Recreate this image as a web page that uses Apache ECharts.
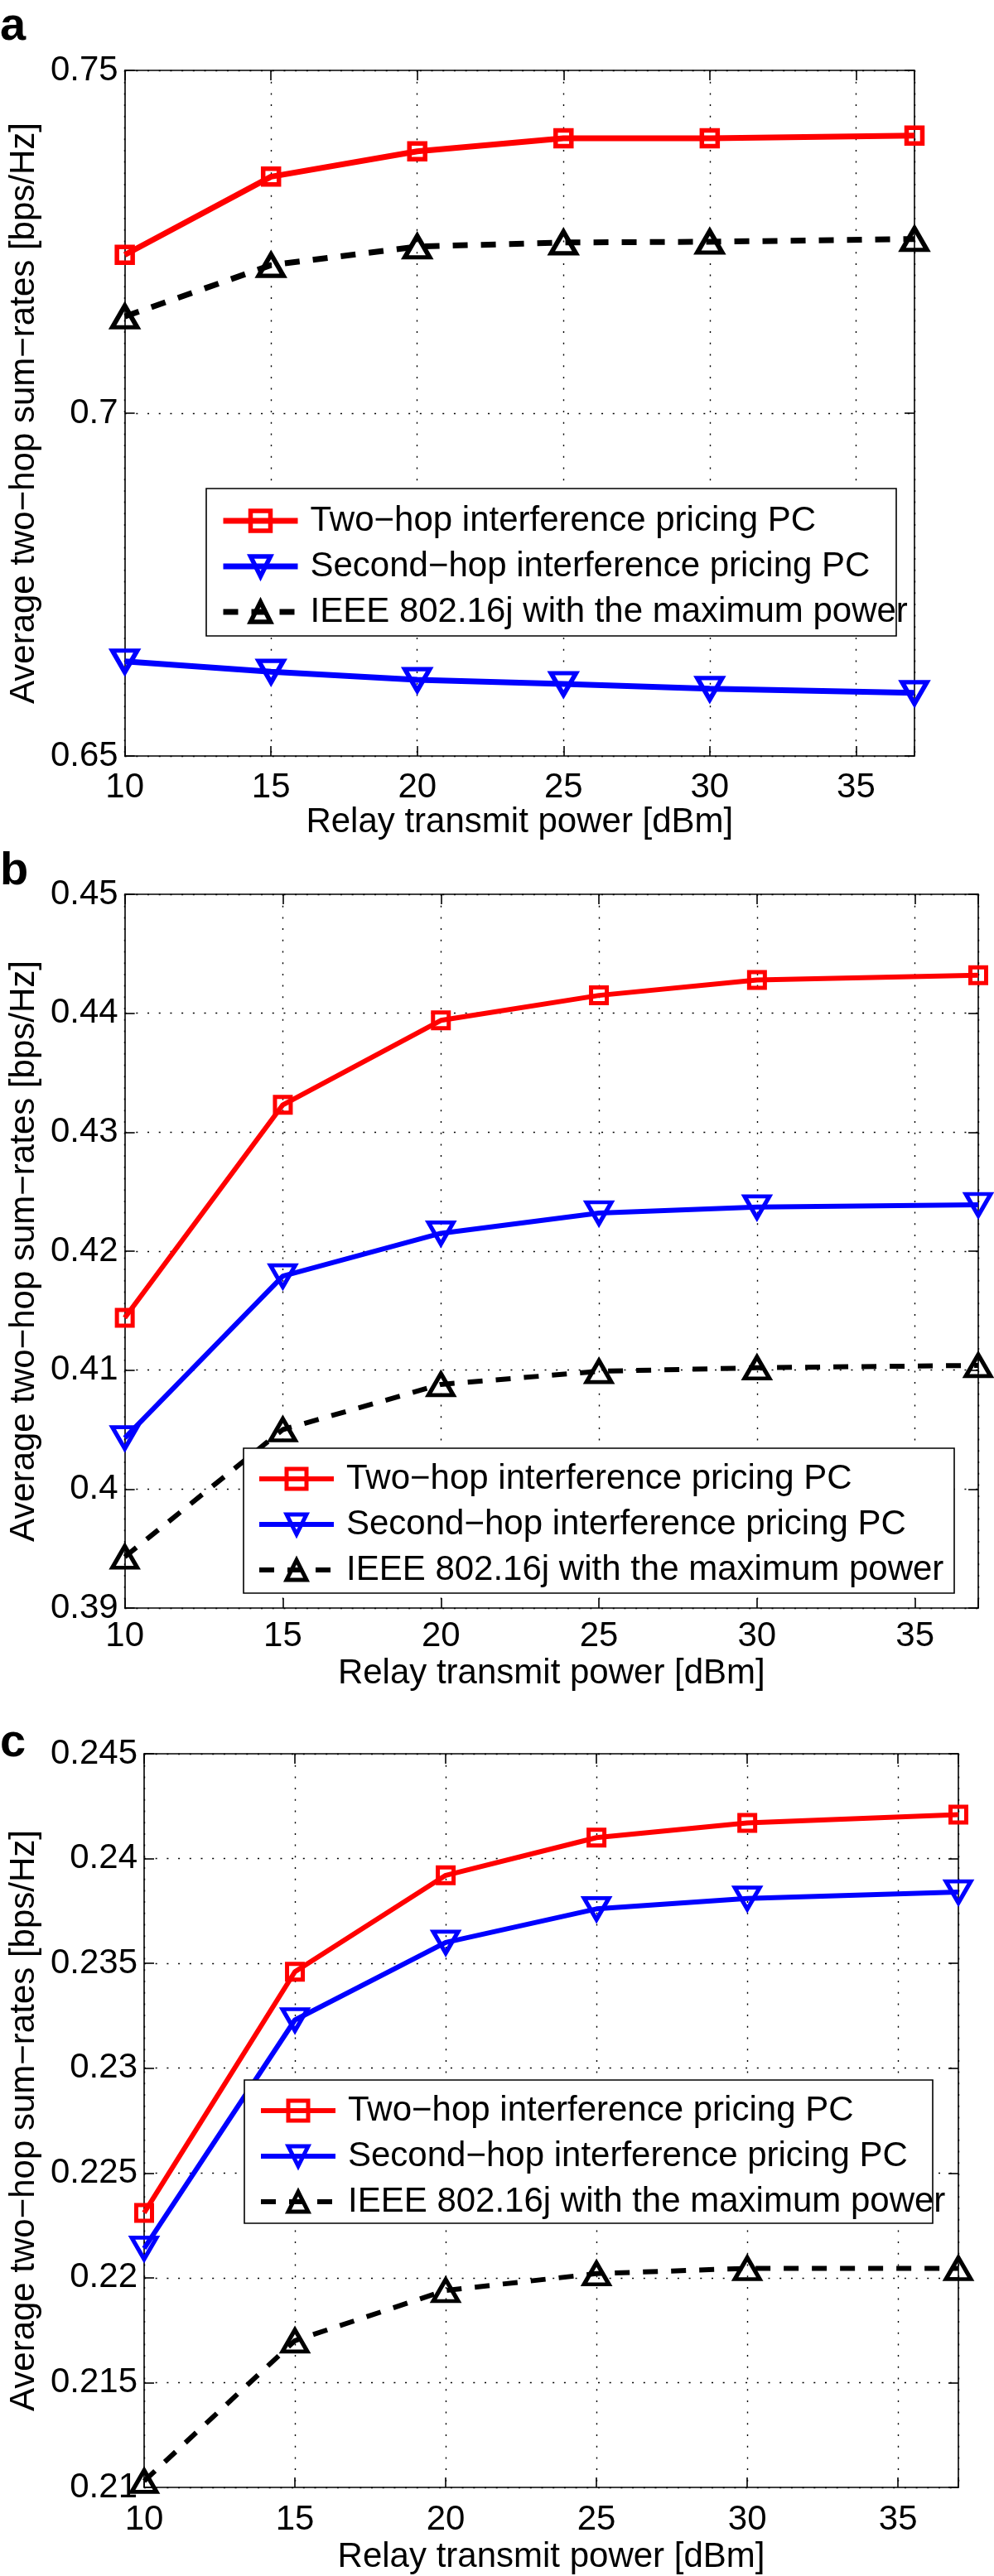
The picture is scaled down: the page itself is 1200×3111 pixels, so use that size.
<!DOCTYPE html>
<html><head><meta charset="utf-8">
<script src="https://cdn.jsdelivr.net/npm/echarts@6/dist/echarts.min.js"></script>
<style>html,body{margin:0;padding:0;background:#fff}#c{width:1200px;height:3111px}</style>
</head><body><div id="c"></div>
<script>
// ---------- data ----------
const power = [10, 15, 20, 25, 30, 37];
const xTicks = [10, 15, 20, 25, 30, 35];
const seriesNames = ['Two\u2212hop interference pricing PC', 'Second\u2212hop interference pricing PC', 'IEEE 802.16j with the maximum power'];
const panelLabels = ['a', 'b', 'c'];
const xTitle = 'Relay transmit power [dBm]';
const yTitle = 'Average two\u2212hop sum\u2212rates [bps/Hz]';

const aTwoHop    = [0.7231, 0.7345, 0.7382, 0.7401, 0.7401, 0.7405];
const aSecondHop = [0.6638, 0.6623, 0.6611, 0.6605, 0.6598, 0.6592];
const aIeee      = [0.7141, 0.7216, 0.7243, 0.7249, 0.7250, 0.7254];
const aYTicks    = [0.65, 0.70, 0.75];

const bTwoHop    = [0.4144, 0.4323, 0.4394, 0.4415, 0.4428, 0.4432];
const bSecondHop = [0.4043, 0.4179, 0.4215, 0.4232, 0.4237, 0.4239];
const bIeee      = [0.3943, 0.4050, 0.4088, 0.4099, 0.4102, 0.4104];
const bYTicks    = [0.39, 0.40, 0.41, 0.42, 0.43, 0.44, 0.45];

const cTwoHop    = [0.2231, 0.2346, 0.2392, 0.2410, 0.2417, 0.2421];
const cSecondHop = [0.2214, 0.2323, 0.2360, 0.2376, 0.2381, 0.2384];
const cIeee      = [0.2103, 0.2170, 0.2194, 0.2202, 0.22045, 0.22045];
const cYTicks    = [0.21, 0.215, 0.22, 0.225, 0.23, 0.235, 0.24, 0.245];

// ---------- layout / style ----------
const FONT = '"Liberation Sans", Arial, Helvetica, sans-serif';
const colors = ['#ff0000', '#0000ff', '#000000'];
const panels = [
  { vals: [aTwoHop, aSecondHop, aIeee], yTicks: aYTicks,
    grid: { left: 122, top: 85, width: 982, height: 828 },
    yGap: 63, xGap: 54, xMargin: 17, lw: 7, bw: 5.5,
    legend: { left: 266, top: 608 }, box: { x: 249, y: 590, w: 833, h: 178 },
    label: { x: 0, y: 33 } },
  { vals: [bTwoHop, bSecondHop, bIeee], yTicks: bYTicks,
    grid: { left: 147, top: 1080, width: 1034, height: 862 },
    yGap: 93, xGap: 58, xMargin: 13, lw: 6, bw: 5,
    legend: { left: 310, top: 1765 }, box: { x: 294, y: 1749, w: 858, h: 175 },
    label: { x: 0, y: 1053 } },
  { vals: [cTwoHop, cSecondHop, cIeee], yTicks: cYTicks,
    grid: { left: 170, top: 2118, width: 987, height: 886 },
    yGap: 115, xGap: 63, xMargin: 18, lw: 6, bw: 5,
    legend: { left: 312, top: 2528 }, box: { x: 295, y: 2512, w: 831, h: 173 },
    label: { x: 0, y: 2106 } }
];

const fmtY = v => String(+(+v).toFixed(4));
const axisLineStyle = { color: '#000', width: 1.6 };
const gridLineStyle = { color: '#000', width: 1.4, type: [2, 11.7] };

const grids = [], xAxes = [], yAxes = [], series = [], legends = [], graphics = [];

panels.forEach((p, pi) => {
  grids.push(Object.assign({ containLabel: false }, p.grid));
  const yMin = p.yTicks[0], yMax = p.yTicks[p.yTicks.length - 1];
  const yInt = +(p.yTicks[1] - p.yTicks[0]).toFixed(6);
  const xMin = power[0], xMax = power[power.length - 1];
  const xInt = xTicks[1] - xTicks[0];
  xAxes.push({
    gridIndex: pi, type: 'value', position: 'bottom', min: xMin, max: xMax, interval: xInt,
    name: xTitle, nameLocation: 'middle', nameGap: p.xGap,
    nameTextStyle: { fontSize: 42, fontFamily: FONT, color: '#000' },
    axisLine: { show: true, onZero: false, lineStyle: axisLineStyle },
    axisTick: { show: true, inside: true, length: 12, lineStyle: axisLineStyle },
    axisLabel: { show: true, margin: p.xMargin, fontSize: 42, fontFamily: FONT, color: '#000',
      formatter: v => (xTicks.indexOf(v) >= 0 ? String(v) : '') },
    splitLine: { show: true, lineStyle: gridLineStyle }
  });
  xAxes.push({
    gridIndex: pi, type: 'value', position: 'top', min: xMin, max: xMax, interval: xInt,
    axisLine: { show: true, onZero: false, lineStyle: axisLineStyle },
    axisTick: { show: true, inside: true, length: 12, lineStyle: axisLineStyle },
    axisLabel: { show: false }, splitLine: { show: false }
  });
  yAxes.push({
    gridIndex: pi, type: 'value', position: 'left', min: yMin, max: yMax, interval: yInt,
    name: yTitle, nameLocation: 'middle', nameGap: p.yGap,
    nameTextStyle: { fontSize: 42, fontFamily: FONT, color: '#000' },
    axisLine: { show: true, onZero: false, lineStyle: axisLineStyle },
    axisTick: { show: true, inside: true, length: 12, lineStyle: axisLineStyle },
    axisLabel: { show: true, margin: 8, fontSize: 42, fontFamily: FONT, color: '#000', formatter: fmtY },
    splitLine: { show: true, lineStyle: gridLineStyle }
  });
  yAxes.push({
    gridIndex: pi, type: 'value', position: 'right', min: yMin, max: yMax, interval: yInt,
    axisLine: { show: true, onZero: false, lineStyle: axisLineStyle },
    axisTick: { show: true, inside: true, length: 12, lineStyle: axisLineStyle },
    axisLabel: { show: false }, splitLine: { show: false }
  });

  const symbols = ['rect', 'triangle', 'triangle'];
  const symSizes = [19, [30, 26], [30, 26]];
  const rotates = [0, 180, 0];
  const lineTypes = ['solid', 'solid', [18, 16]];
  const legendData = [];
  p.vals.forEach((vals, si) => {
    const nm = seriesNames[si] + '#' + pi;
    legendData.push({
      name: nm,
      lineStyle: { color: colors[si], width: p.lw, type: lineTypes[si] },
      itemStyle: { color: 'rgba(255,255,255,0)', borderColor: colors[si], borderWidth: p.bw }
    });
    series.push({
      type: 'line', name: nm, xAxisIndex: pi * 2, yAxisIndex: pi * 2,
      data: power.map((x, j) => [x, vals[j]]),
      symbol: symbols[si], symbolSize: symSizes[si], symbolRotate: rotates[si],
      showAllSymbol: true, clip: false, z: 3,
      lineStyle: { color: colors[si], width: p.lw, type: lineTypes[si] },
      itemStyle: { color: 'rgba(255,255,255,0)', borderColor: colors[si], borderWidth: p.bw },
      emphasis: { disabled: true }, animation: false
    });
  });

  legends.push({
    data: legendData, orient: 'vertical', left: p.legend.left, top: p.legend.top,
    itemWidth: 90, itemHeight: 30, itemGap: 13, padding: 0, selectedMode: false,
    formatter: n => n.split('#')[0], z: 20,
    textStyle: { fontSize: 42, fontFamily: FONT, color: '#000', padding: [0, 0, 0, 10] }
  });

  graphics.push({
    type: 'rect', z: 15, shape: { x: p.box.x, y: p.box.y, width: p.box.w, height: p.box.h },
    style: { fill: '#fff', stroke: '#000', lineWidth: 1.6 }
  });
  graphics.push({
    type: 'text', z: 15, x: p.label.x, y: p.label.y,
    style: { text: panelLabels[pi], font: 'bold 56px ' + FONT, fill: '#000', verticalAlign: 'middle', align: 'left' }
  });
});

const chart = echarts.init(document.getElementById('c'), null, { renderer: 'canvas', width: 1200, height: 3111 });
chart.setOption({
  animation: false,
  backgroundColor: '#fff',
  grid: grids, xAxis: xAxes, yAxis: yAxes, series: series, legend: legends,
  graphic: { elements: graphics }
});
</script></body></html>
